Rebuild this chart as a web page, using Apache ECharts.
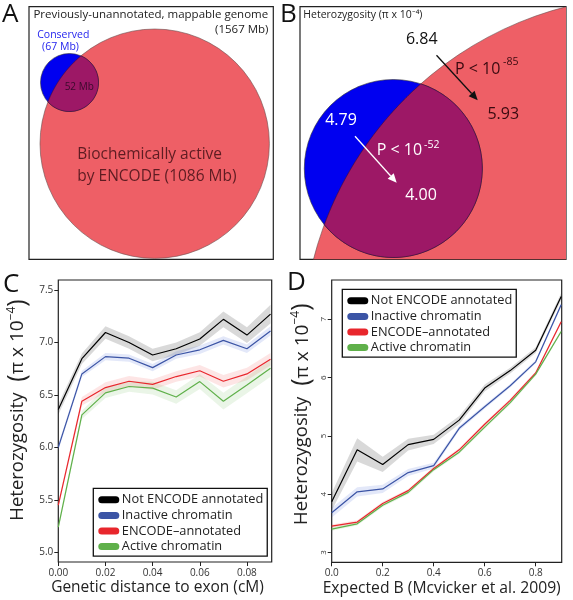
<!DOCTYPE html>
<html><head><meta charset="utf-8">
<script src="https://cdn.jsdelivr.net/npm/echarts@6/dist/echarts.min.js"></script>
<style>html,body{margin:0;padding:0;background:#fff}#c{width:573px;height:600px}</style>
</head><body><div id="c"></div>
<script>
const FONT = 'Open Sans';
const seriesNames = ['Not ENCODE annotated', 'Inactive chromatin', 'ENCODE\u2013annotated', 'Active chromatin'];
const seriesColors = ['#000000', '#3B54A5', '#E8262C', '#5FB04A'];
const bandColors = ['rgba(0,0,0,0.15)', 'rgba(60,90,210,0.14)', 'rgba(240,40,40,0.12)', 'rgba(90,180,70,0.13)'];

// Panel C: genetic distance to exon (cM)
const cX = [0, 0.01, 0.02, 0.03, 0.04, 0.05, 0.06, 0.07, 0.08, 0.09];
const cNotEncode = [6.36, 6.845, 7.095, 7.0, 6.88, 6.94, 7.033, 7.22, 7.07, 7.27];
const cInactive = [6.0, 6.70, 6.865, 6.85, 6.76, 6.88, 6.93, 7.02, 6.94, 7.11];
const cEncode = [5.45, 6.44, 6.57, 6.63, 6.60, 6.675, 6.73, 6.63, 6.70, 6.84];
const cActive = [5.24, 6.31, 6.52, 6.58, 6.565, 6.48, 6.627, 6.44, 6.595, 6.754];
const cNotEncodeErr = [0.05, 0.05, 0.06, 0.06, 0.06, 0.06, 0.065, 0.075, 0.075, 0.09];
const cInactiveErr = [0.03, 0.03, 0.035, 0.035, 0.035, 0.035, 0.04, 0.04, 0.04, 0.045];
const cEncodeErr = [0.03, 0.04, 0.05, 0.05, 0.05, 0.05, 0.055, 0.06, 0.06, 0.06];
const cActiveErr = [0.03, 0.04, 0.05, 0.05, 0.06, 0.065, 0.07, 0.08, 0.08, 0.08];
const cXTicks = [0, 0.02, 0.04, 0.06, 0.08];
const cYTicks = [5.0, 5.5, 6.0, 6.5, 7.0, 7.5];

// Panel D: expected B
const dX = [0, 0.1, 0.2, 0.3, 0.4, 0.5, 0.6, 0.7, 0.8, 0.9];
const dNotEncode = [3.87, 4.76, 4.51, 4.85, 4.94, 5.27, 5.82, 6.12, 6.47, 7.39];
const dInactive = [3.68, 4.04, 4.09, 4.37, 4.49, 5.13, 5.5, 5.86, 6.27, 7.25];
const dEncode = [3.45, 3.52, 3.84, 4.06, 4.44, 4.76, 5.2, 5.61, 6.08, 6.96];
const dActive = [3.40, 3.49, 3.81, 4.03, 4.42, 4.72, 5.15, 5.57, 6.06, 6.79];
const dNotEncodeErr = [0.15, 0.2, 0.13, 0.1, 0.08, 0.07, 0.06, 0.05, 0.05, 0.06];
const dInactiveErr = [0.08, 0.08, 0.07, 0.06, 0.05, 0.04, 0.035, 0.03, 0.03, 0.04];
const dEncodeErr = [0.03, 0.03, 0.03, 0.03, 0.03, 0.03, 0.03, 0.03, 0.03, 0.03];
const dActiveErr = [0.03, 0.03, 0.03, 0.03, 0.03, 0.03, 0.03, 0.03, 0.03, 0.03];
const dXTicks = [0, 0.2, 0.4, 0.6, 0.8];
const dYTicks = [3, 4, 5, 6, 7];

// Panel A Venn (sizes in Mb; circle layout: center x, center y, radius in panel units)
const vennASizes = { genome: 1567, encode: 1086, conserved: 67, overlap: 52 };
const vennARed = [125.7, 137.0, 114.7];
const vennABlue = [40.5, 75.8, 29.0];
// Panel B Venn (zoomed view) and heterozygosity values
const vennBRed = [353.4, 340.0, 351.0];
const vennBBlue = [93.3, 161.8, 89.0];
const hetValues = { notEncodeAll: 6.84, encodeAll: 5.93, conservedAll: 4.79, conservedEncode: 4.00 };
const arrowsB = [[136.5, 48.5, 177.7, 93.5, '#111'], [55, 129.5, 96.7, 176, '#fff']];

const C_RED = '#EE5F66', C_BLUE = '#0000F0', C_LENS = '#9D1866';

function zip(xs, ys) { return xs.map((x, i) => [x, ys[i]]); }

function arcPts(c, r, pA, pB, toward, n) {
  const aA = Math.atan2(pA[1] - c[1], pA[0] - c[0]);
  const aB = Math.atan2(pB[1] - c[1], pB[0] - c[0]);
  const aT = Math.atan2(toward[1] - c[1], toward[0] - c[0]);
  const norm = a => { while (a < 0) a += 2 * Math.PI; while (a >= 2 * Math.PI) a -= 2 * Math.PI; return a; };
  let delta = norm(aB - aA);
  const tRel = norm(aT - aA);
  if (tRel > delta) delta = delta - 2 * Math.PI;
  const pts = [];
  for (let i = 0; i <= n; i++) {
    const a = aA + delta * i / n;
    pts.push([c[0] + r * Math.cos(a), c[1] + r * Math.sin(a)]);
  }
  return pts;
}

function vennRender(red, blue) {
  return function (params, api) {
    const rc = api.coord([red[0], red[1]]);
    const rr = api.size([red[2], 0])[0];
    const bc = api.coord([blue[0], blue[1]]);
    const br = api.size([blue[2], 0])[0];
    const dx = bc[0] - rc[0], dy = bc[1] - rc[1];
    const d = Math.sqrt(dx * dx + dy * dy);
    const a = (rr * rr - br * br + d * d) / (2 * d);
    const h = Math.sqrt(Math.max(0, rr * rr - a * a));
    const px = rc[0] + a * dx / d, py = rc[1] + a * dy / d;
    const i1 = [px - h * dy / d, py + h * dx / d];
    const i2 = [px + h * dy / d, py - h * dx / d];
    const lens = arcPts(rc, rr, i1, i2, bc, 120).concat(arcPts(bc, br, i2, i1, rc, 80));
    return {
      type: 'group',
      children: [
        { type: 'circle', shape: { cx: rc[0], cy: rc[1], r: rr }, style: { fill: C_RED, stroke: '#6a5050', lineWidth: 0.6 } },
        { type: 'circle', shape: { cx: bc[0], cy: bc[1], r: br }, style: { fill: C_BLUE, stroke: '#333', lineWidth: 0.6 } },
        { type: 'polygon', shape: { points: lens }, style: { fill: C_LENS, stroke: '#3a1030', lineWidth: 0.6 } }
      ]
    };
  };
}

function bandSeries(gi, xs, ys, errs, color) {
  return {
    type: 'custom', xAxisIndex: gi, yAxisIndex: gi, silent: true, clip: true, z: 1,
    data: [[xs[0], ys[0]]],
    renderItem: function (params, api) {
      const pts = [];
      for (let i = 0; i < xs.length; i++) pts.push(api.coord([xs[i], ys[i] + errs[i]]));
      for (let i = xs.length - 1; i >= 0; i--) pts.push(api.coord([xs[i], ys[i] - errs[i]]));
      return { type: 'polygon', shape: { points: pts }, style: { fill: color } };
    }
  };
}

function lineSeries(gi, name, xs, ys, color) {
  return {
    type: 'line', name: name, xAxisIndex: gi, yAxisIndex: gi, data: zip(xs, ys),
    symbol: 'none', z: 3, color: color, itemStyle: { color: color },
    lineStyle: { color: color, width: 1.2 }, silent: true, animation: false
  };
}

const arrowSeries = {
  type: 'custom', xAxisIndex: 1, yAxisIndex: 1, silent: true, z: 5,
  data: arrowsB.map(a => [a[0], a[1], a[2], a[3]]),
  renderItem: function (params, api) {
    const ar = arrowsB[params.dataIndex];
    const p1 = api.coord([ar[0], ar[1]]), p2 = api.coord([ar[2], ar[3]]);
    const dx = p2[0] - p1[0], dy = p2[1] - p1[1], L = Math.sqrt(dx * dx + dy * dy);
    const ux = dx / L, uy = dy / L, hl = 9, hw = 4;
    const b = [p2[0] - ux * hl, p2[1] - uy * hl];
    return {
      type: 'group', children: [
        { type: 'line', shape: { x1: p1[0], y1: p1[1], x2: b[0], y2: b[1] }, style: { stroke: ar[4], lineWidth: 1.3 } },
        { type: 'polygon', shape: { points: [p2, [b[0] - uy * hw, b[1] + ux * hw], [b[0] + uy * hw, b[1] - ux * hw]] }, style: { fill: ar[4] } }
      ]
    };
  }
};

const stadium = 'path://M4,0H20A4,4,0,0,1,20,8H4A4,4,0,0,1,4,0Z';
function legendCfg(left, top) {
  return {
    left: left, top: top, orient: 'vertical', icon: stadium, itemWidth: 24, itemHeight: 7, itemGap: 0.6,
    padding: [4, 4, 2, 5], borderColor: '#111', borderWidth: 1.3, selectedMode: false,
    textStyle: { fontFamily: FONT, fontSize: 12.8, color: '#222', lineHeight: 15, padding: [0, 0, 0, -4] },
    data: seriesNames
  };
}

const yName = '{a|Heterozygosity}{g|   }{p|(}{b|\u03c0 x 10}{s|\u22124}{p|)}';
const yNameStyle = {
  fontFamily: FONT, color: '#222',
  rich: {
    a: { fontFamily: FONT, fontSize: 18.5, color: '#222' },
    g: { fontSize: 14 },
    p: { fontFamily: FONT, fontSize: 25, color: '#222' },
    b: { fontFamily: FONT, fontSize: 19, color: '#222' },
    s: { fontFamily: FONT, fontSize: 12, color: '#222', verticalAlign: 'top' }
  }
};

function hiddenAxis(gi, min, max, inverse) {
  return { gridIndex: gi, type: 'value', min: min, max: max, inverse: !!inverse, show: false, splitLine: { show: false } };
}

const axLabel = { fontFamily: FONT, fontSize: 10, color: '#333' };

const option = {
  animation: false,
  backgroundColor: '#fff',
  grid: [
    { left: 29, top: 6.7, width: 244.3, height: 252.6, show: true, borderColor: '#222', borderWidth: 1.2, backgroundColor: 'transparent' },
    { left: 300, top: 6.7, width: 266, height: 252.6, show: true, borderColor: '#222', borderWidth: 1.2, backgroundColor: 'transparent' },
    { left: 58.3, top: 280, width: 213.4, height: 282, show: true, borderColor: '#222', borderWidth: 1.2, backgroundColor: 'transparent' },
    { left: 331.7, top: 280, width: 230, height: 282.3, show: true, borderColor: '#222', borderWidth: 1.2, backgroundColor: 'transparent' }
  ],
  xAxis: [
    hiddenAxis(0, 0, 244.3),
    hiddenAxis(1, 0, 266),
    {
      gridIndex: 2, type: 'value', min: 0, max: 0.0905, splitLine: { show: false },
      axisLine: { show: false },
      axisTick: { show: true, length: 4, lineStyle: { color: '#222', width: 1 }, customValues: cXTicks },
      axisLabel: Object.assign({ customValues: cXTicks, margin: 6, formatter: v => v.toFixed(2) }, axLabel),
      name: 'Genetic distance to exon (cM)', nameLocation: 'middle', nameGap: 18,
      nameTextStyle: { fontFamily: FONT, fontSize: 15.5, color: '#222', padding: [0, 15, 0, 0] }
    },
    {
      gridIndex: 3, type: 'value', min: 0, max: 0.902, splitLine: { show: false },
      axisLine: { show: false },
      axisTick: { show: true, length: 4, lineStyle: { color: '#222', width: 1 }, customValues: dXTicks },
      axisLabel: Object.assign({ customValues: dXTicks, margin: 6, formatter: v => v.toFixed(1) }, axLabel),
      name: 'Expected B (Mcvicker et al. 2009)', nameLocation: 'middle', nameGap: 18,
      nameTextStyle: { fontFamily: FONT, fontSize: 15.7, color: '#222', padding: [0, 10, 0, 0] }
    }
  ],
  yAxis: [
    hiddenAxis(0, 0, 252.6, true),
    hiddenAxis(1, 0, 252.6, true),
    {
      gridIndex: 2, type: 'value', min: 4.908, max: 7.595, splitLine: { show: false },
      axisLine: { show: false },
      axisTick: { show: true, length: 4, lineStyle: { color: '#222', width: 1 }, customValues: cYTicks },
      axisLabel: Object.assign({ customValues: cYTicks, margin: 5, formatter: v => v.toFixed(1) }, axLabel),
      name: yName, nameLocation: 'middle', nameRotate: 90, nameGap: 28,
      nameTextStyle: Object.assign({ padding: [0, 0, 0, 22] }, yNameStyle)
    },
    {
      gridIndex: 3, type: 'value', min: 2.83, max: 7.675, splitLine: { show: false },
      axisLine: { show: false },
      axisTick: { show: true, length: 4, lineStyle: { color: '#222', width: 1 }, customValues: dYTicks },
      axisLabel: { customValues: dYTicks, margin: 4, rotate: 90, fontFamily: FONT, fontSize: 8, color: '#333' },
      name: yName, nameLocation: 'middle', nameRotate: 90, nameGap: 17,
      nameTextStyle: Object.assign({ padding: [0, 0, 0, 14] }, yNameStyle)
    }
  ],
  legend: [legendCfg(93.3, 488.3), legendCfg(342.3, 289.3)],
  series: [
    { type: 'custom', xAxisIndex: 0, yAxisIndex: 0, silent: true, clip: true, z: 1, data: [[0, 0]], renderItem: vennRender(vennARed, vennABlue) },
    { type: 'custom', xAxisIndex: 1, yAxisIndex: 1, silent: true, clip: true, z: 1, data: [[0, 0]], renderItem: vennRender(vennBRed, vennBBlue) },
    arrowSeries,
    bandSeries(2, cX, cNotEncode, cNotEncodeErr, bandColors[0]),
    bandSeries(2, cX, cInactive, cInactiveErr, bandColors[1]),
    bandSeries(2, cX, cEncode, cEncodeErr, bandColors[2]),
    bandSeries(2, cX, cActive, cActiveErr, bandColors[3]),
    lineSeries(2, seriesNames[0], cX, cNotEncode, seriesColors[0]),
    lineSeries(2, seriesNames[1], cX, cInactive, seriesColors[1]),
    lineSeries(2, seriesNames[2], cX, cEncode, seriesColors[2]),
    lineSeries(2, seriesNames[3], cX, cActive, seriesColors[3]),
    bandSeries(3, dX, dNotEncode, dNotEncodeErr, bandColors[0]),
    bandSeries(3, dX, dInactive, dInactiveErr, bandColors[1]),
    bandSeries(3, dX, dEncode, dEncodeErr, bandColors[2]),
    bandSeries(3, dX, dActive, dActiveErr, bandColors[3]),
    lineSeries(3, seriesNames[0], dX, dNotEncode, seriesColors[0]),
    lineSeries(3, seriesNames[1], dX, dInactive, seriesColors[1]),
    lineSeries(3, seriesNames[2], dX, dEncode, seriesColors[2]),
    lineSeries(3, seriesNames[3], dX, dActive, seriesColors[3])
  ],
  graphic: [
    // panel letters
    { type: 'text', left: 2, top: 2, style: { text: 'A', fontFamily: FONT, fontSize: 26, fill: '#111' } },
    { type: 'text', left: 280, top: 2, style: { text: 'B', fontFamily: FONT, fontSize: 26, fill: '#111' } },
    { type: 'text', left: 3, top: 272, style: { text: 'C', fontFamily: FONT, fontSize: 26, fill: '#111' } },
    { type: 'text', left: 287, top: 270, style: { text: 'D', fontFamily: FONT, fontSize: 26, fill: '#111' } },
    // panel A
    { type: 'text', x: 150.8, y: 15, z: 10, style: { text: 'Previously-unannotated, mappable genome', fontFamily: FONT, fontSize: 11.5, fill: '#222', align: 'center', verticalAlign: 'middle' } },
    { type: 'text', x: 268.5, y: 29.3, z: 10, style: { text: '(' + vennASizes.genome + ' Mb)', fontFamily: FONT, fontSize: 11.5, fill: '#222', align: 'right', verticalAlign: 'middle' } },
    { type: 'text', x: 63.3, y: 35, z: 10, style: { text: 'Conserved', fontFamily: FONT, fontSize: 10.5, fill: '#2424ee', align: 'center', verticalAlign: 'middle' } },
    { type: 'text', x: 60.5, y: 46.7, z: 10, style: { text: '(' + vennASizes.conserved + ' Mb)', fontFamily: FONT, fontSize: 10.5, fill: '#2424ee', align: 'center', verticalAlign: 'middle' } },
    { type: 'text', x: 79.2, y: 87.3, z: 10, style: { text: vennASizes.overlap + ' Mb', fontFamily: FONT, fontSize: 10, fill: '#3a0a2c', align: 'center', verticalAlign: 'middle' } },
    { type: 'text', x: 77.3, y: 155, z: 10, style: { text: 'Biochemically active', fontFamily: FONT, fontSize: 15.5, fill: '#5e1c22', align: 'left', verticalAlign: 'middle' } },
    { type: 'text', x: 77.3, y: 176.7, z: 10, style: { text: 'by ENCODE (' + vennASizes.encode + ' Mb)', fontFamily: FONT, fontSize: 15.5, fill: '#5e1c22', align: 'left', verticalAlign: 'middle' } },
    // panel B
    { type: 'text', x: 303.3, y: 15, z: 10, style: { text: 'Heterozygosity (\u03c0 x 10\u207b\u2074)', fontFamily: FONT, fontSize: 10.5, fill: '#222', align: 'left', verticalAlign: 'middle' } },
    { type: 'text', x: 421.7, y: 39.3, z: 10, style: { text: hetValues.notEncodeAll.toFixed(2), fontFamily: FONT, fontSize: 16, fill: '#111', align: 'center', verticalAlign: 'middle' } },
    { type: 'text', x: 455, y: 69, z: 10, style: { text: 'P < 10', fontFamily: FONT, fontSize: 16, fill: '#3a0a10', align: 'left', verticalAlign: 'middle' } },
    { type: 'text', x: 503, y: 62, z: 10, style: { text: '-85', fontFamily: FONT, fontSize: 10.5, fill: '#3a0a10', align: 'left', verticalAlign: 'middle' } },
    { type: 'text', x: 503.3, y: 114.3, z: 10, style: { text: hetValues.encodeAll.toFixed(2), fontFamily: FONT, fontSize: 16, fill: '#3a0a10', align: 'center', verticalAlign: 'middle' } },
    { type: 'text', x: 341, y: 120.7, z: 10, style: { text: hetValues.conservedAll.toFixed(2), fontFamily: FONT, fontSize: 16, fill: '#fff', align: 'center', verticalAlign: 'middle' } },
    { type: 'text', x: 376.7, y: 150, z: 10, style: { text: 'P < 10', fontFamily: FONT, fontSize: 16, fill: '#fff', align: 'left', verticalAlign: 'middle' } },
    { type: 'text', x: 424, y: 145, z: 10, style: { text: '-52', fontFamily: FONT, fontSize: 10.5, fill: '#fff', align: 'left', verticalAlign: 'middle' } },
    { type: 'text', x: 421, y: 195, z: 10, style: { text: hetValues.conservedEncode.toFixed(2), fontFamily: FONT, fontSize: 16, fill: '#fff', align: 'center', verticalAlign: 'middle' } }
  ]
};

const chart = echarts.init(document.getElementById('c'), null, { renderer: 'canvas', width: 573, height: 600 });
chart.setOption(option);
</script>
</body></html>
